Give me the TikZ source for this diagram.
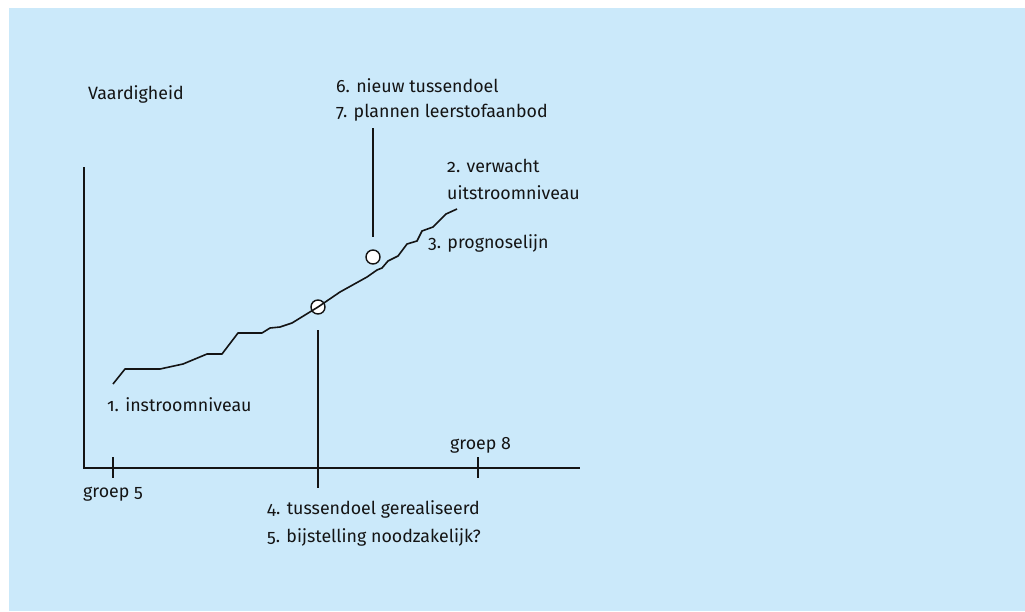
\documentclass[tikz,border=0pt]{standalone}
\usepackage{fontspec}
\setmainfont{Fira Sans}[Numbers=OldStyle]
\definecolor{bgblue}{RGB}{203,233,250}
\definecolor{ink}{RGB}{20,20,20}
\begin{document}
\begin{tikzpicture}[x=1pt,y=-1pt,
  lbl/.style={anchor=west,inner sep=0pt,font=\fontsize{17.8}{21}\selectfont,text=ink},
  ln/.style={draw=ink,line width=1.6pt},
  dot/.style={circle,draw=ink,fill=white,line width=1.4pt,minimum size=14pt,inner sep=0pt}]
\useasboundingbox (0,0) rectangle (1025,611);
\fill[bgblue] (9,8) rectangle (1025,611);
% axes
\coordinate (ytop) at (84,167);
\coordinate (orig) at (84,468);
\coordinate (xend) at (580,468);
\draw[ln] (ytop) -- (orig) -- (xend);
\coordinate (t5a) at (113,457); \coordinate (t5b) at (113,478);
\coordinate (t8a) at (478,457); \coordinate (t8b) at (478,478);
\draw[ln] (t5a) -- (t5b);
\draw[ln] (t8a) -- (t8b);
% markers
\node[dot] (c1) at (318,307) {};
\coordinate (m1top) at (318,330); \coordinate (m1bot) at (318,488);
\draw[ln] (m1top) -- (m1bot);
% curve
\draw[ln,line join=round] (113,384) -- (125,369) -- (160,369) -- (183,364) -- (207,354) -- (222,354)
  -- (238,333) -- (262,333) -- (270,328) -- (280,327) -- (292,323) -- (318,307) -- (340,292)
  -- (367,277) -- (377,270) -- (382,268) -- (388,261) -- (398,256) -- (407,244) -- (417,241)
  -- (422,231) -- (433,227) -- (446,214) -- (457,209);
\coordinate (m2top) at (373,128); \coordinate (m2bot) at (373,237);
\draw[ln] (m2top) -- (m2bot);
\node[dot] (c2) at (373,257) {};
% labels
\node[lbl] (vaard) at (88,94) {Vaardigheid};
\node[lbl] (l6) at (336,86) {6. nieuw tussendoel};
\node[lbl] (l7) at (336,113) {7. plannen leerstofaanbod};
\node[lbl] (l2a) at (447,166) {2. verwacht};
\node[lbl] (l2b) at (447,193) {uitstroomniveau};
\node[lbl] (l3) at (428,243) {3. prognoselijn};
\node[lbl] (l1) at (107,405) {1. instroomniveau};
\node[lbl] (g8) at (450,445) {groep 8};
\node[lbl] (g5) at (83,494) {groep 5};
\node[lbl] (l4) at (267,509) {4. tussendoel gerealiseerd};
\node[lbl] (l5) at (267,537) {5. bijstelling noodzakelijk?};
\end{tikzpicture}
\end{document}
